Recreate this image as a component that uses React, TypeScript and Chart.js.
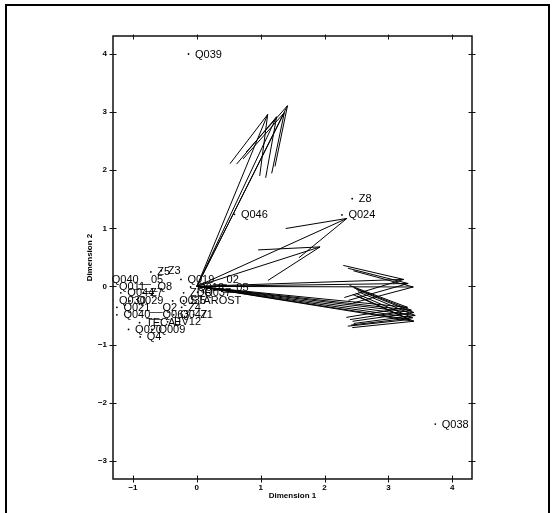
import React, { useEffect, useRef } from "react";
import { Chart, registerables } from "chart.js";

Chart.register(...registerables);

// Arrow tips (vectors from the origin)
const arrowX = [1.11, 1.25, 1.42, 1.37, 2.35, 1.93, 3.24, 3.39, 3.31, 3.30, 3.36, 3.40, 3.42, 3.38, 3.33, 3.40];
const arrowY = [2.96, 2.92, 3.11, 2.99, 1.17, 0.68, 0.12, -0.01, 0.05, -0.36, -0.41, -0.45, -0.50, -0.54, -0.57, -0.60];

// Labelled points
const pointLabels = [
  "Q039", "Q038", "Z8", "Q024", "Q046", "Z5", "Z3", "Q040__05", "Q019__02", "Q011__Q8",
  "Q018__05", "Q044", "Z7", "ZDR", "Q037", "Q030", "Q029", "Q035", "STAROST", "Q021__Q2",
  "Z4", "Q040__Q063", "Q047", "Z1", "TECAJ", "EV12", "Q020", "Q009", "Q4",
];
const pointX = [
  -0.13, 3.735, 2.434, 2.273, 0.589, -0.72, -0.556, -1.434, -0.249, -1.32,
  -0.097, -1.19, -0.834, -0.207, 0.013, -1.32, -1.047, -0.379, -0.207, -1.252,
  -0.238, -1.252, -0.364, -0.05, -0.897, -0.458, -1.069, -0.704, -0.886,
];
const pointY = [
  4.0, -2.37, 1.51, 1.23, 1.24, 0.25, 0.27, 0.12, 0.12, -0.005,
  -0.01, -0.11, -0.11, -0.11, -0.1, -0.25, -0.25, -0.25, -0.25, -0.36,
  -0.36, -0.49, -0.49, -0.49, -0.625, -0.61, -0.74, -0.74, -0.87,
];

const xTicks = [-1, 0, 1, 2, 3, 4];
const yTicks = [-3, -2, -1, 0, 1, 2, 3, 4];
const xTitle = "Dimension 1";
const yTitle = "Dimension 2";

const HEAD_LEN = 62;
const HEAD_ANGLE = (15 * Math.PI) / 180;
const LABEL_FONT = "11px 'Liberation Sans', Arial, sans-serif";
const AXIS_FONT = "bold 8px 'Liberation Sans', Arial, sans-serif";

const fmt = (v: number | string) => String(v).replace("-", "\u2212");

const overlay = {
  id: "overlay",
  beforeDatasetsDraw(chart: any) {
    const { ctx, scales } = chart;
    const xs = scales.x, ys = scales.y;
    ctx.save();
    ctx.font = LABEL_FONT;
    ctx.fillStyle = "#000";
    ctx.textAlign = "left";
    ctx.textBaseline = "middle";
    pointLabels.forEach((t, i) => {
      const px = xs.getPixelForValue(pointX[i]);
      const py = ys.getPixelForValue(pointY[i]);
      ctx.fillText(t, px + 6.5, py + 0.5);
    });
    ctx.restore();
  },
  afterDatasetsDraw(chart: any) {
    const { ctx, chartArea: a, scales } = chart;
    const xs = scales.x, ys = scales.y;
    ctx.save();
    ctx.strokeStyle = "#000";
    ctx.lineWidth = 1;
    const ox = xs.getPixelForValue(0), oy = ys.getPixelForValue(0);
    arrowX.forEach((vx, i) => {
      const tx = xs.getPixelForValue(vx), ty = ys.getPixelForValue(arrowY[i]);
      const ang = Math.atan2(oy - ty, ox - tx);
      ctx.beginPath();
      ctx.moveTo(ox, oy);
      ctx.lineTo(tx, ty);
      for (const s of [-1, 1]) {
        const b = ang + s * HEAD_ANGLE;
        ctx.moveTo(tx, ty);
        ctx.lineTo(tx + HEAD_LEN * Math.cos(b), ty + HEAD_LEN * Math.sin(b));
      }
      ctx.stroke();
    });

    // plot frame
    ctx.lineWidth = 1.5;
    ctx.strokeStyle = "#111";
    ctx.strokeRect(a.left, a.top, a.right - a.left, a.bottom - a.top);
    // ticks on all four sides
    ctx.lineWidth = 1;
    ctx.beginPath();
    xTicks.forEach((v) => {
      const px = Math.round(xs.getPixelForValue(v)) + 0.5;
      ctx.moveTo(px, a.bottom - 3.5); ctx.lineTo(px, a.bottom + 3.5);
      ctx.moveTo(px, a.top - 1.5); ctx.lineTo(px, a.top + 3.5);
    });
    yTicks.forEach((v) => {
      const py = Math.round(ys.getPixelForValue(v)) + 0.5;
      ctx.moveTo(a.left - 3.5, py); ctx.lineTo(a.left + 3.5, py);
      ctx.moveTo(a.right - 3.5, py); ctx.lineTo(a.right + 3.5, py);
    });
    ctx.stroke();

    // axis titles
    ctx.fillStyle = "#000";
    ctx.font = AXIS_FONT;
    ctx.textAlign = "center";
    ctx.textBaseline = "middle";
    ctx.fillText(xTitle, (a.left + a.right) / 2, a.bottom + 17);
    ctx.save();
    ctx.translate(a.left - 23, (a.top + a.bottom) / 2);
    ctx.rotate(-Math.PI / 2);
    ctx.fillText(yTitle, 0, 0);
    ctx.restore();

    // outer frame
    ctx.fillStyle = "#000";
    ctx.fillRect(5, 4, 2, chart.height - 4);
    ctx.fillRect(5, 4, 545, 2);
    ctx.fillRect(548, 4, 2, chart.height - 4);
    ctx.restore();
  },
};

export default function App() {
  const ref = useRef<HTMLCanvasElement | null>(null);
  useEffect(() => {
    document.body.style.margin = "0";
    if (!ref.current) return;
    const chart = new Chart(ref.current, {
      type: "scatter",
      data: {
        datasets: [
          {
            data: pointX.map((x, i) => ({ x, y: pointY[i] })),
            pointRadius: 0.9,
            pointBorderWidth: 0,
            backgroundColor: "#000",
            borderColor: "#000",
          },
        ],
      },
      options: {
        animation: false,
        responsive: false,
        devicePixelRatio: 1,
        layout: { padding: { left: 0, top: 36, right: 86, bottom: 0 } },
        plugins: { legend: { display: false }, tooltip: { enabled: false } },
        scales: {
          x: {
            type: "linear",
            min: -1.313,
            max: 4.31,
            afterBuildTicks: (s: any) => { s.ticks = xTicks.map((v) => ({ value: v })); },
            afterFit: (s: any) => { s.height = 34; },
            grid: { display: false, drawTicks: false },
            border: { display: false },
            ticks: { color: "#000", font: { family: "'Liberation Sans', Arial", size: 8, weight: "bold" }, padding: 4, maxRotation: 0, callback: (v: any) => fmt(v) },
          },
          y: {
            type: "linear",
            min: -3.315,
            max: 4.31,
            afterBuildTicks: (s: any) => { s.ticks = yTicks.map((v) => ({ value: v })); },
            afterFit: (s: any) => { s.width = 113; },
            grid: { display: false, drawTicks: false },
            border: { display: false },
            ticks: { color: "#000", font: { family: "'Liberation Sans', Arial", size: 8, weight: "bold" }, padding: 6, callback: (v: any) => fmt(v) },
          },
        },
      },
      plugins: [overlay],
    });
    return () => chart.destroy();
  }, []);
  return (
    <div style={{ width: 558, height: 513, overflow: "hidden", background: "#fff" }}>
      <canvas ref={ref} width={558} height={513} style={{ display: "block" }} />
    </div>
  );
}
